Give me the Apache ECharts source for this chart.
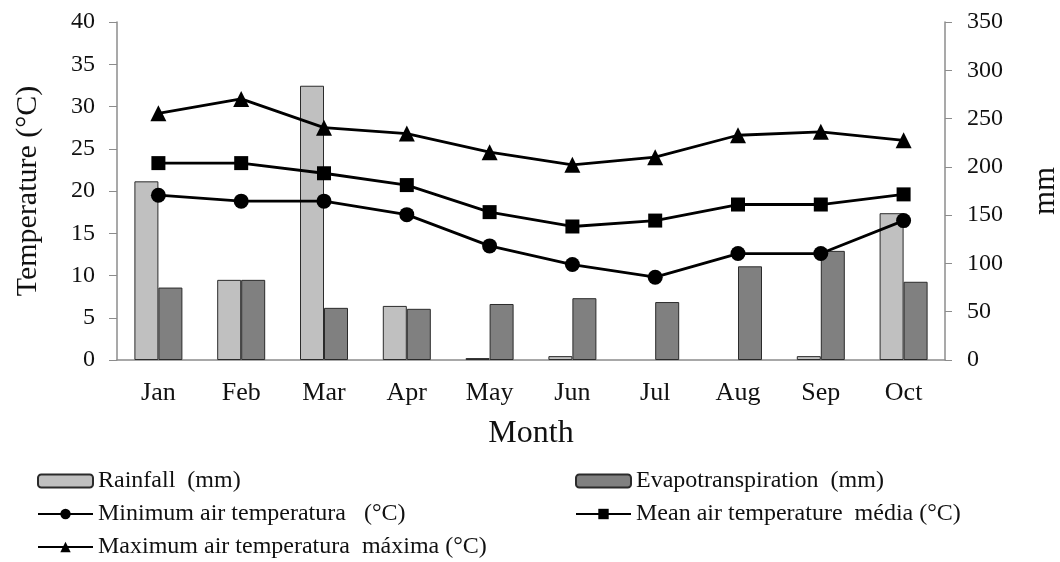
<!DOCTYPE html>
<html>
<head>
<meta charset="utf-8">
<script src="https://cdn.jsdelivr.net/npm/echarts@6/dist/echarts.min.js"></script>
<style>
    html, body {margin:0;padding:0;background:#ffffff;}
    #chart {width:1060px;height:562px;}
</style>
</head>
<body>
<div id="chart"></div>
<script>
    var months = ['Jan', 'Feb', 'Mar', 'Apr', 'May', 'Jun', 'Jul', 'Aug', 'Sep', 'Oct'];
    // mm (right axis), null = no bar drawn
    var rainfall = [185, 83, 284, 56, 2, 4, null, null, 4, 152];
    var evapo = [75, 83, 54, 53, 58, 64, 60, 97, 113, 81];
    // °C (left axis)
    var tMin = [19.5, 18.8, 18.8, 17.2, 13.5, 11.3, 9.8, 12.6, 12.6, 16.5];
    var tMean = [23.3, 23.3, 22.1, 20.7, 17.5, 15.8, 16.5, 18.4, 18.4, 19.6];
    var tMax = [29.2, 30.9, 27.5, 26.8, 24.6, 23.1, 24.0, 26.6, 27.0, 26.0];

    var names = ['Rainfall  (mm)', 'Evapotranspiration  (mm)', 'Minimum air temperatura   (°C)',
        'Mean air temperature  média (°C)', 'Maximum air temperatura  máxima (°C)'];

    var serif = '"Liberation Serif", "DejaVu Serif", serif';
    var axisGray = '#8c8c8c';

    function legendAt(name, left, top) {
        return {
            data: [name],
            left: left,
            top: top,
            padding: 0,
            itemWidth: 55,
            itemHeight: 13,
            selectedMode: false,
            textStyle: {fontFamily: serif, fontSize: 24, color: '#111'}
        };
    }

    var chart = echarts.init(document.getElementById('chart'));

    var option = {
        animation: false,
        backgroundColor: '#ffffff',
        grid: {left: 117, right: 115, top: 22, bottom: 202, outerBoundsMode: 'none'},
        legend: [
            legendAt(names[0], 37, 469),
            legendAt(names[1], 575, 469),
            legendAt(names[2], 37, 502),
            legendAt(names[3], 575, 502),
            legendAt(names[4], 37, 535)
        ],
        xAxis: {
            type: 'category',
            data: months,
            name: 'Month',
            nameLocation: 'middle',
            nameGap: 58,
            nameTextStyle: {fontFamily: serif, fontSize: 32, color: '#111'},
            axisLine: {lineStyle: {color: axisGray, width: 1.5}},
            axisTick: {length: 8, lineStyle: {color: axisGray}},
            axisLabel: {fontFamily: serif, fontSize: 26, color: '#111', margin: 20}
        },
        yAxis: [
            {
                type: 'value',
                min: 0,
                max: 40,
                interval: 5,
                name: 'Temperature (°C)',
                nameLocation: 'middle',
                nameRotate: 90,
                nameGap: 74,
                nameTextStyle: {fontFamily: serif, fontSize: 30, color: '#111'},
                axisLine: {show: true, lineStyle: {color: axisGray, width: 1.5}},
                axisTick: {show: true, length: 8, lineStyle: {color: axisGray}},
                splitLine: {show: false},
                axisLabel: {fontFamily: serif, fontSize: 24, color: '#111', margin: 22}
            },
            {
                type: 'value',
                position: 'right',
                min: 0,
                max: 350,
                interval: 50,
                name: 'mm',
                nameLocation: 'middle',
                nameRotate: 90,
                nameGap: 85,
                nameTextStyle: {fontFamily: serif, fontSize: 31, color: '#111'},
                axisLine: {show: true, lineStyle: {color: axisGray, width: 1.5}},
                axisTick: {show: true, length: 7, lineStyle: {color: axisGray}},
                splitLine: {show: false},
                axisLabel: {fontFamily: serif, fontSize: 24, color: '#111', margin: 22}
            }
        ],
        series: [
            {
                name: names[0],
                type: 'bar',
                yAxisIndex: 1,
                barWidth: 24,
                barGap: '0%',
                data: rainfall,
                itemStyle: {color: '#c0c0c0', borderColor: '#2b2b2b', borderWidth: 1}
            },
            {
                name: names[1],
                type: 'bar',
                yAxisIndex: 1,
                barWidth: 24,
                barGap: '0%',
                data: evapo,
                itemStyle: {color: '#808080', borderColor: '#2b2b2b', borderWidth: 1}
            },
            {
                name: names[2],
                type: 'line',
                yAxisIndex: 0,
                data: tMin,
                symbol: 'circle',
                symbolSize: 15,
                lineStyle: {color: '#000', width: 2.8},
                itemStyle: {color: '#000'}
            },
            {
                name: names[3],
                type: 'line',
                yAxisIndex: 0,
                data: tMean,
                symbol: 'rect',
                symbolSize: 14,
                lineStyle: {color: '#000', width: 2.8},
                itemStyle: {color: '#000'}
            },
            {
                name: names[4],
                type: 'line',
                yAxisIndex: 0,
                data: tMax,
                symbol: 'triangle',
                symbolSize: 16,
                lineStyle: {color: '#000', width: 2.8},
                itemStyle: {color: '#000'}
            }
        ]
    };

    chart.setOption(option);
</script>
</body>
</html>
